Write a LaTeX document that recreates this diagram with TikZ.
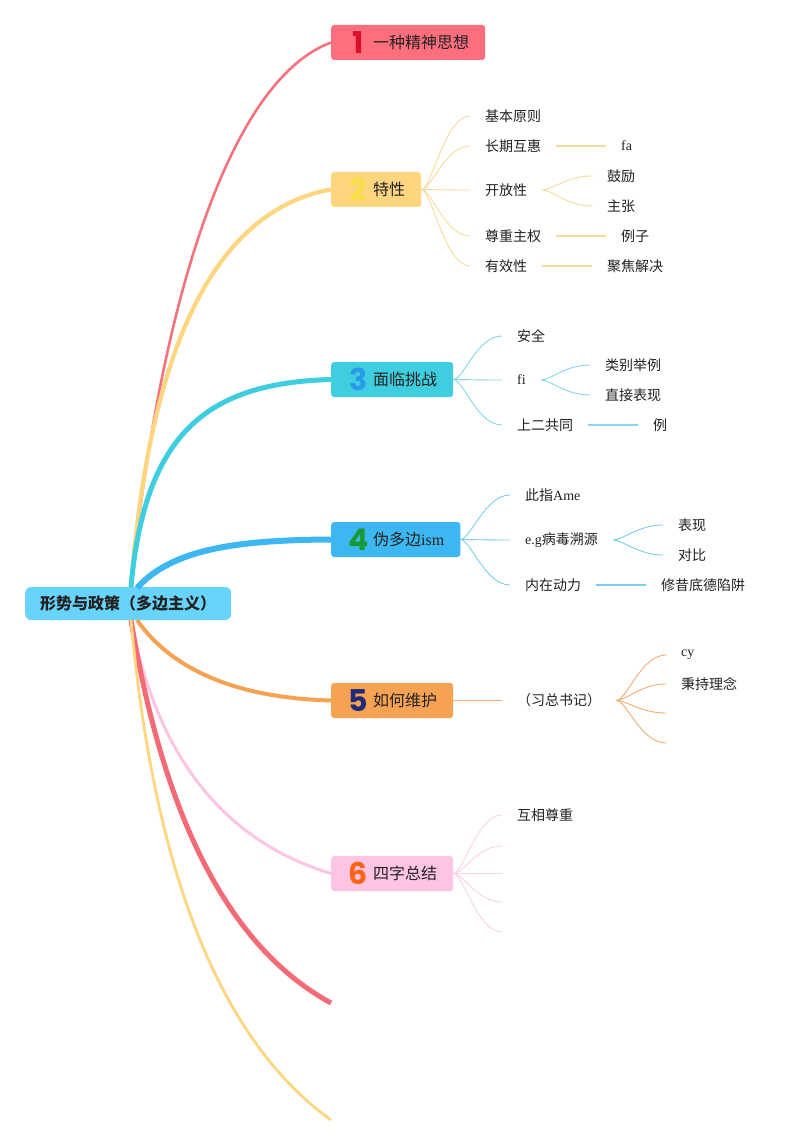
\documentclass[tikz,border=0pt]{standalone}
\usepackage{fontspec}
\setmainfont{Liberation Serif}
\newfontfamily\cjk{Noto Sans CJK SC}
\newfontfamily\lat{Liberation Serif}
\newfontfamily\numfont{Poppins}
\usetikzlibrary{calc}
\definecolor{rootc}{HTML}{68D3FB}
\definecolor{boxa}{HTML}{FE6F7E}
\definecolor{boxb}{HTML}{FDD67F}
\definecolor{boxc}{HTML}{3FCEE0}
\definecolor{boxd}{HTML}{3DB7F1}
\definecolor{boxe}{HTML}{F6A253}
\definecolor{boxf}{HTML}{FEC4E4}
\definecolor{curvea}{HTML}{F4737F}
\definecolor{curveg}{HTML}{F46B78}
\definecolor{numa}{HTML}{D8102A}
\definecolor{numb}{HTML}{F8DF45}
\definecolor{numc}{HTML}{2A9AE8}
\definecolor{numd}{HTML}{1A9A35}
\definecolor{nume}{HTML}{1E2B78}
\definecolor{numf}{HTML}{FF6414}
\definecolor{fanb}{HTML}{F7DB9A}
\definecolor{fanc}{HTML}{86D6E9}
\definecolor{fand}{HTML}{7CCCF0}
\definecolor{fane}{HTML}{F2AD70}
\definecolor{fanf}{HTML}{F9D3E9}
\definecolor{txt}{HTML}{222222}
\newcommand\fanto[3]{\draw[#1] (#2.east) .. controls +(10,0) and +(-25,0) .. (#3.west);}
\newcommand\bnum[2]{\(\vcenter{\hbox{\makebox[22pt]{\numfont\bfseries\fontsize{30}{30}\selectfont\color{#1}#2}}}\)\hspace{4pt}}
\newcommand\btxt[1]{\(\vcenter{\hbox{#1}}\)}
\begin{document}
\begin{tikzpicture}[x=1pt,y=-1pt,
  rootbox/.style={anchor=west, fill=rootc, rounded corners=6pt, minimum height=33pt,
    inner xsep=15pt, inner ysep=0pt, text=txt, font=\cjk\bfseries\fontsize{16}{18}\selectfont},
  branch/.style={anchor=west, rounded corners=3pt, minimum height=35pt, inner xsep=16pt,
    inner ysep=0pt, text=txt, font=\cjk\fontsize{16}{18}\selectfont},
  leaf/.style={anchor=west, inner xsep=15pt, inner ysep=1pt, text=txt,
    font=\cjk\fontsize{14}{16}\selectfont},
  fb/.style={draw=fanb, line width=0.9pt},
  fbs/.style={draw=fanb, line width=1.6pt},
  fc/.style={draw=fanc, line width=0.9pt},
  fcs/.style={draw=fanc, line width=1.6pt},
  fd/.style={draw=fand, line width=0.9pt},
  fds/.style={draw=fand, line width=1.6pt},
  fe/.style={draw=fane, line width=0.9pt},
  ff/.style={draw=fanf, line width=0.9pt}
]
\fill[white] (0,0) rectangle (805,1147);
\useasboundingbox (0,0) rectangle (805,1147);

% root
\node[rootbox] (root) at (25,603.5) {形势与政策（多边主义）};
\coordinate (ru) at (131,587);
\coordinate (rub) at (137,588);
\coordinate (rd) at (131,620);
\coordinate (rdo) at (137,620);
\coordinate (e7) at (331,1003);
\coordinate (e8) at (331,1120);

% main branch curves
\draw[curvea, line width=2.6pt] (ru) .. controls (160,300) and (230,80) .. (331,42.5);
\draw[boxb, line width=4.2pt] (ru) .. controls (150,342) and (217,210) .. (331,189.5);
\draw[boxc, line width=5pt] (ru) .. controls (145,430) and (210,383) .. (331,379.5);
\draw[boxd, line width=6pt] (rub) .. controls (172,549) and (237,540) .. (331,539.5);
\draw[boxe, line width=4pt] (rdo) .. controls (172,670) and (237,698) .. (331,700.5);
\draw[boxf, line width=3pt] (rd) .. controls (157,757) and (224,841) .. (331,873.5);
\draw[curveg, line width=5pt] (rd) .. controls (164,820) and (230,948) .. (e7);
\draw[boxb, line width=2.8pt] (rd) .. controls (154,873) and (220,1040) .. (e8);

% branch boxes
\node[branch, fill=boxa] (n1) at (331,42.5) {\bnum{numa}{1}\btxt{一种精神思想}};
\node[branch, fill=boxb] (n2) at (331,189.5) {\bnum{numb}{2}\btxt{特性}};
\node[branch, fill=boxc] (n3) at (331,379.5) {\bnum{numc}{3}\btxt{面临挑战}};
\node[branch, fill=boxd] (n4) at (331,539.5) {\bnum{numd}{4}\btxt{伪多边{\lat ism}}};
\node[branch, fill=boxe] (n5) at (331,700.5) {\bnum{nume}{5}\btxt{如何维护}};
\node[branch, fill=boxf] (n6) at (331,873.5) {\bnum{numf}{6}\btxt{四字总结}};

% branch 2
\node[leaf] (a1) at (470,116) {基本原则};
\node[leaf] (a2) at (470,146) {长期互惠};
\node[leaf] (a3) at (470,190) {开放性};
\node[leaf] (a4) at (470,236) {尊重主权};
\node[leaf] (a5) at (470,266) {有效性};
\node[leaf] (a21) at (606,146) {\lat fa};
\node[leaf] (a31) at (592,176) {鼓励};
\node[leaf] (a32) at (592,206) {主张};
\node[leaf] (a41) at (606,236) {例子};
\node[leaf] (a51) at (592,266) {聚焦解决};
\fanto{fb}{n2}{a1}
\fanto{fb}{n2}{a2}
\fanto{fb}{n2}{a3}
\fanto{fb}{n2}{a4}
\fanto{fb}{n2}{a5}
\fanto{fbs}{a2}{a21}
\fanto{fb}{a3}{a31}
\fanto{fb}{a3}{a32}
\fanto{fbs}{a4}{a41}
\fanto{fbs}{a5}{a51}

% branch 3
\node[leaf] (b1) at (502,336) {安全};
\node[leaf] (b2) at (502,380) {\lat fi};
\node[leaf] (b3) at (502,425) {上二共同};
\node[leaf] (b21) at (590,365) {类别举例};
\node[leaf] (b22) at (590,395) {直接表现};
\node[leaf] (b31) at (638,425) {例};
\fanto{fc}{n3}{b1}
\fanto{fc}{n3}{b2}
\fanto{fc}{n3}{b3}
\fanto{fc}{b2}{b21}
\fanto{fc}{b2}{b22}
\fanto{fcs}{b3}{b31}

% branch 4
\node[leaf] (c1) at (510,495) {此指{\lat Ame}};
\node[leaf] (c2) at (510,540) {{\lat e.g}病毒溯源};
\node[leaf] (c3) at (510,585) {内在动力};
\node[leaf] (c21) at (663,525) {表现};
\node[leaf] (c22) at (663,555) {对比};
\node[leaf] (c31) at (646,585) {修昔底德陷阱};
\fanto{fd}{n4}{c1}
\fanto{fd}{n4}{c2}
\fanto{fd}{n4}{c3}
\fanto{fd}{c2}{c21}
\fanto{fd}{c2}{c22}
\fanto{fds}{c3}{c31}

% branch 5
\node[leaf] (d1) at (502,700.5) {（习总书记）};
\node[leaf] (d11) at (666,655) {\lat cy};
\node[leaf] (d12) at (666,684) {秉持理念};
\node[leaf] (d13) at (666,713) {};
\node[leaf] (d14) at (666,743) {};
\fanto{fe}{n5}{d1}
\fanto{fe}{d1}{d11}
\fanto{fe}{d1}{d12}
\fanto{fe}{d1}{d13}
\fanto{fe}{d1}{d14}

% branch 6
\node[leaf] (g1) at (502,815) {互相尊重};
\node[leaf] (g2) at (502,846) {};
\node[leaf] (g3) at (502,873.5) {};
\node[leaf] (g4) at (502,902) {};
\node[leaf] (g5) at (502,932) {};
\fanto{ff}{n6}{g1}
\fanto{ff}{n6}{g2}
\fanto{ff}{n6}{g3}
\fanto{ff}{n6}{g4}
\fanto{ff}{n6}{g5}
\end{tikzpicture}
\end{document}
